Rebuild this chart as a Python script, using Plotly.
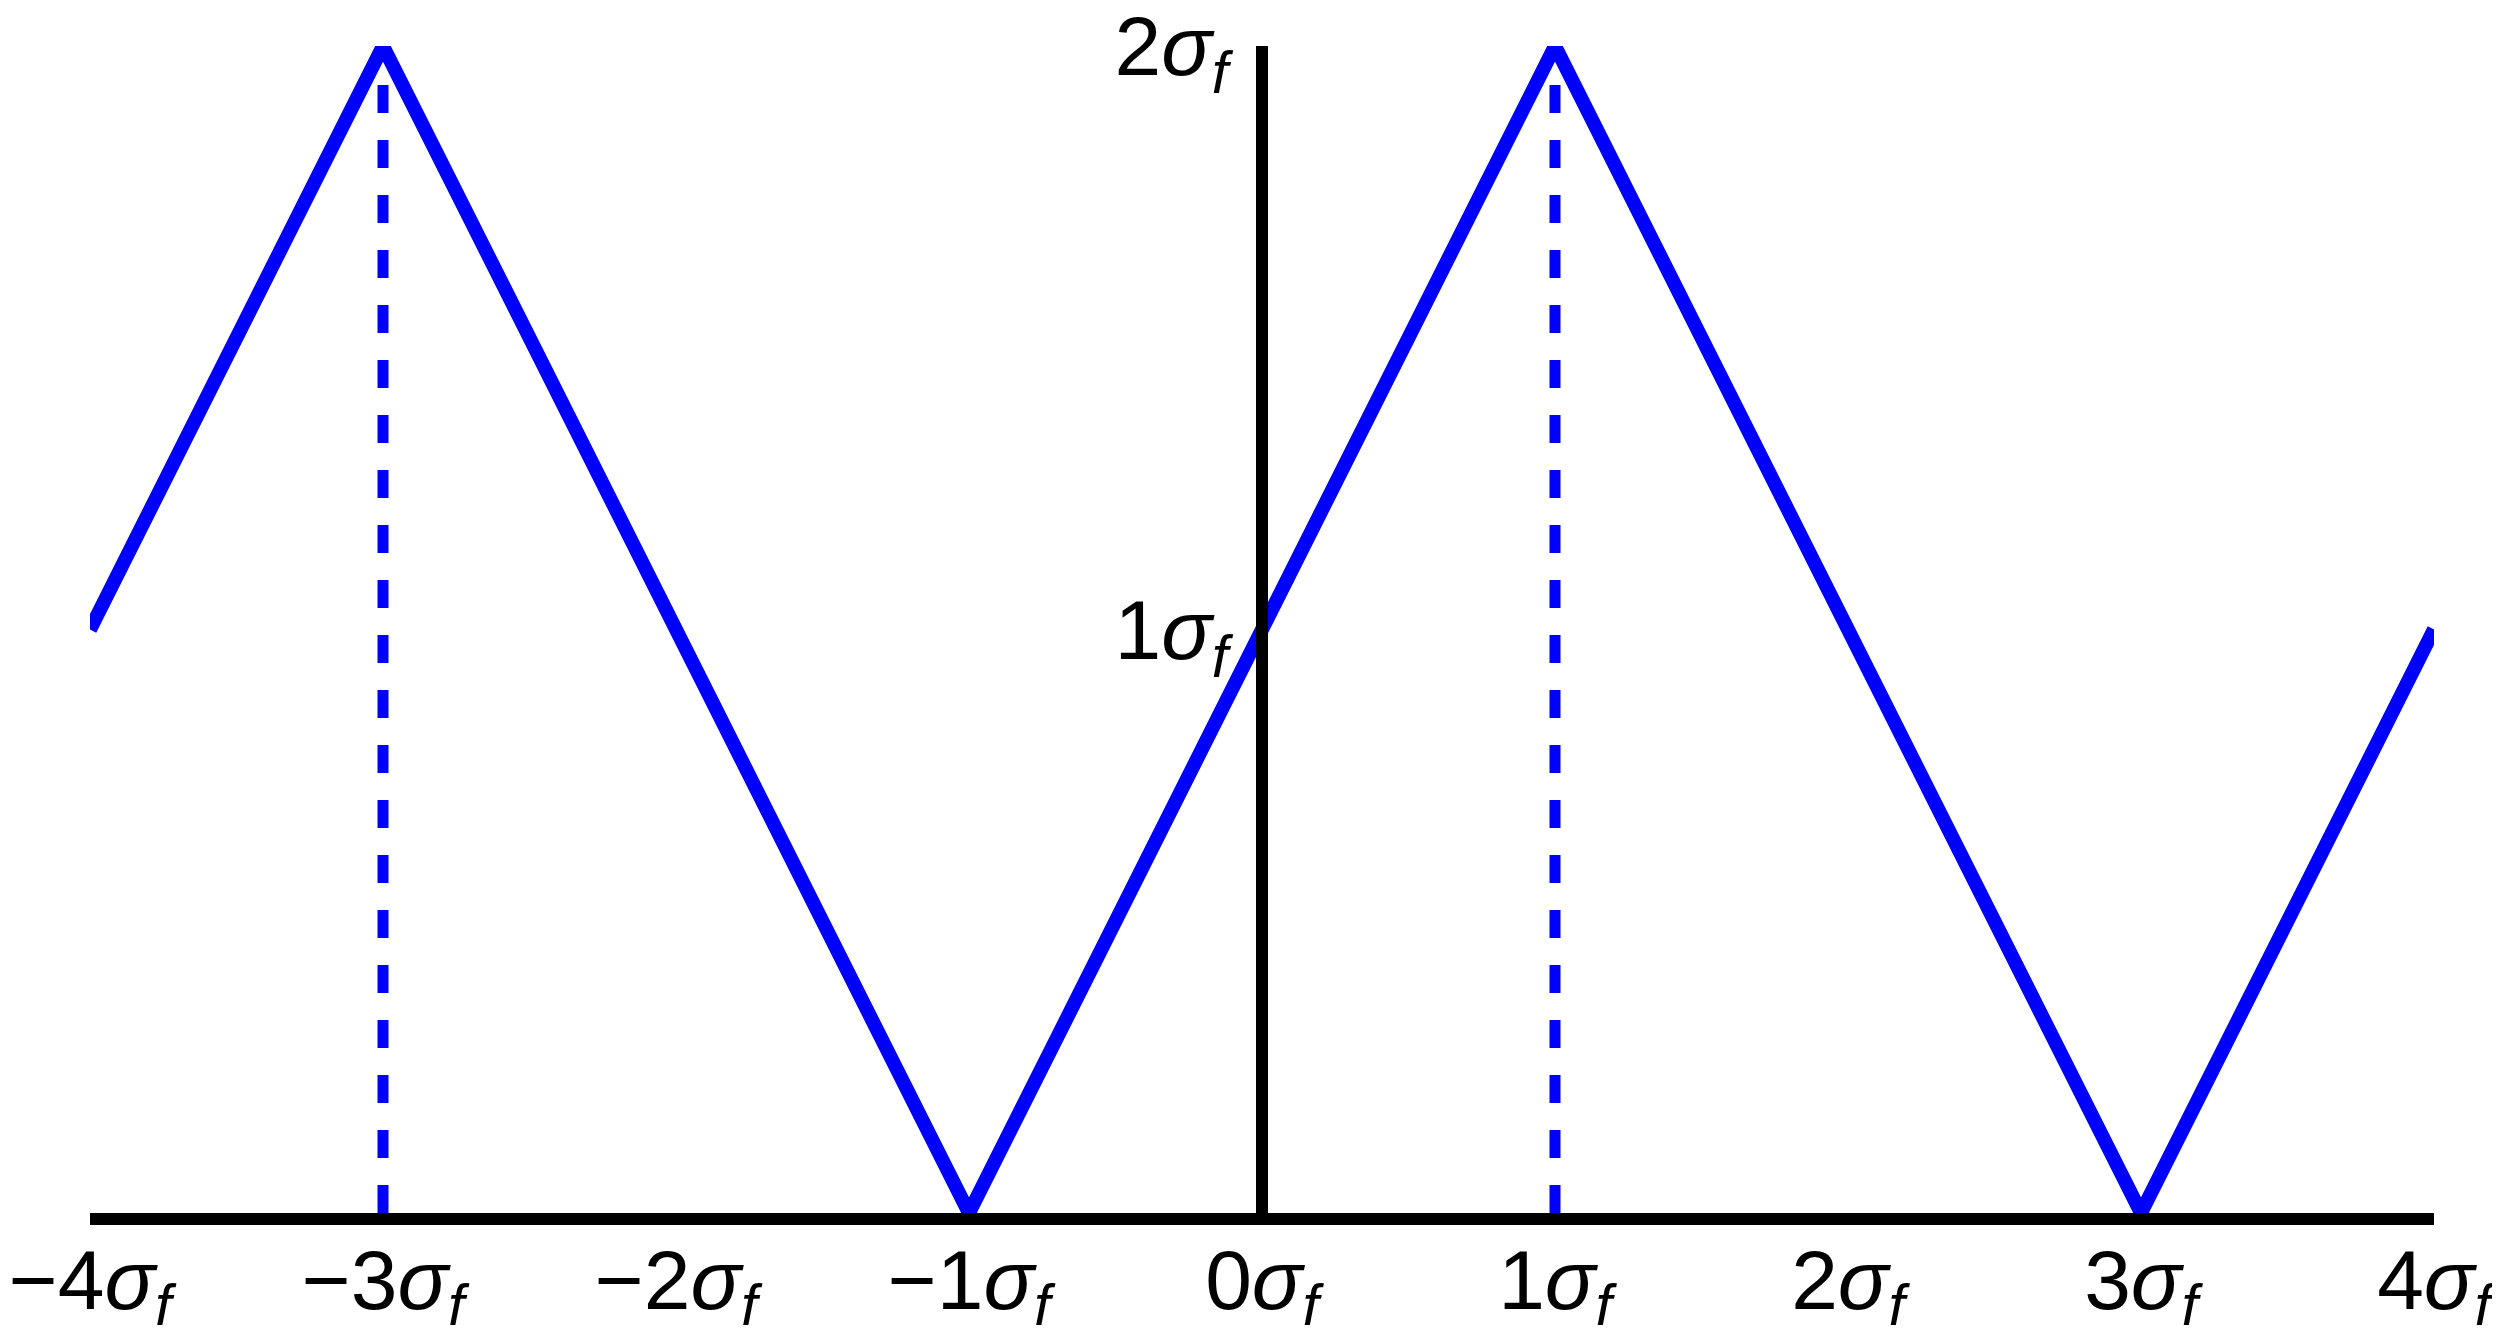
"""Triangle wave with dashed markers at the peaks, axes crossing at the origin."""

import plotly.graph_objects as go

# corner points of the blue triangle wave (units of sigma_f)
wave_x = [-4, -3, -1, 1, 3, 4]
wave_y = [1, 2, 0, 2, 0, 1]

# dashed drop lines under the two peaks
peak_x = [-3, 1]
peak_top = 2
peak_base = 0

# tick positions and labels
x_tick_values = [-4, -3, -2, -1, 0, 1, 2, 3, 4]
y_tick_values = [1, 2]


def sigma_label(value: int) -> str:
    sign = "\u2212" if value < 0 else ""
    return f"{sign}{abs(value)}<i>\u03c3</i><sub><i>f</i></sub>"


x_tick_text = [sigma_label(v) for v in x_tick_values]
y_tick_text = [sigma_label(v) for v in y_tick_values]

BLUE = "#0000ff"
tick_font = dict(family="Liberation Sans, Arial, sans-serif", size=84, color="black")

fig = go.Figure()

fig.add_trace(
    go.Scatter(
        x=wave_x,
        y=wave_y,
        mode="lines",
        line=dict(color=BLUE, width=14),
        hoverinfo="skip",
    )
)

for px in peak_x:
    fig.add_trace(
        go.Scatter(
            x=[px, px],
            y=[peak_base, peak_top],
            mode="lines",
            line=dict(color=BLUE, width=11, dash="28px,27px"),
            hoverinfo="skip",
        )
    )

# the page body keeps its default 8px margin, so the figure is sized to fit inside it
fig.update_layout(
    width=2484,
    height=1317,
    margin=dict(l=82, r=58, t=38, b=112, pad=0),
    paper_bgcolor="white",
    plot_bgcolor="white",
    showlegend=False,
    xaxis=dict(
        range=[x_tick_values[0], x_tick_values[-1]],
        tickvals=x_tick_values,
        ticktext=x_tick_text,
        tickfont=tick_font,
        ticks="",
        showgrid=False,
        zeroline=False,
        showline=True,
        linecolor="black",
        linewidth=12,
        automargin=False,
        ticklabelstandoff=-17,
        ticklabeloverflow="allow",
    ),
    yaxis=dict(
        range=[peak_base, peak_top],
        tickvals=y_tick_values,
        ticktext=y_tick_text,
        tickfont=tick_font,
        ticks="",
        showgrid=False,
        zeroline=False,
        showline=True,
        linecolor="black",
        linewidth=12,
        anchor="free",
        position=0.5,
        automargin=False,
        ticklabelstandoff=11,
        ticklabeloverflow="allow",
    ),
)

fig.write_html("out.html")
